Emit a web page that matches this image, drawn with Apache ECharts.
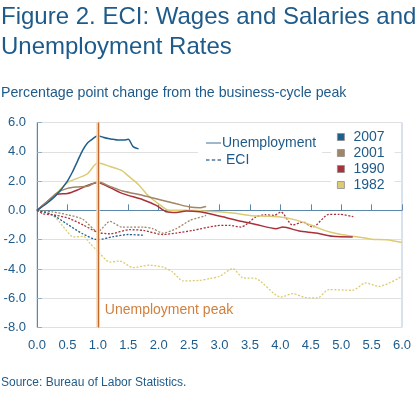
<!DOCTYPE html>
<html>
<head>
<meta charset="utf-8">
<script src="https://cdn.jsdelivr.net/npm/echarts@6/dist/echarts.min.js"></script>
<style>
html,body{margin:0;padding:0;background:#fff;}
#c{width:420px;height:395px;}
</style>
</head>
<body>
<div id="c"></div>
<script>
// Years after business-cycle peak (x) and percentage point change (y)
const years = ['2007', '2001', '1990', '1982'];
const colors = ['#1f5f8b', '#a08566', '#a8313a', '#dccb72'];

const unemp2007 = [[0,0],[0.17,0.5],[0.33,1.1],[0.5,2.0],[0.58,2.6],[0.67,3.4],[0.75,4.1],[0.83,4.6],[0.92,4.9],[1.0,5.1],[1.08,5.0],[1.17,4.9],[1.25,4.85],[1.33,4.8],[1.42,4.8],[1.5,4.85],[1.58,4.35],[1.67,4.2]];
const unemp2001 = [[0,0],[0.17,0.6],[0.33,1.2],[0.5,1.5],[0.67,1.6],[0.83,1.65],[1.0,1.95],[1.2,1.64],[1.41,1.32],[1.74,1.02],[2.02,0.73],[2.29,0.45],[2.51,0.23],[2.67,0.18],[2.78,0.27]];
const unemp1990 = [[0,0],[0.17,0.6],[0.33,1.1],[0.5,1.15],[0.67,1.4],[0.83,1.7],[1.0,1.9],[1.2,1.55],[1.41,1.14],[1.74,0.73],[1.96,0.34],[2.13,-0.1],[2.29,-0.15],[2.45,-0.05],[2.67,-0.1],[2.84,-0.23],[3.11,-0.5],[3.35,-0.75],[3.6,-0.96],[3.93,-1.25],[4.04,-1.14],[4.31,-1.41],[4.59,-1.55],[4.86,-1.77],[5.19,-1.82]];
const unemp1982 = [[0,0],[0.17,0.6],[0.33,1.2],[0.5,1.9],[0.67,2.2],[0.83,2.5],[1.0,3.25],[1.2,3.0],[1.39,2.73],[1.5,2.35],[1.67,1.75],[1.83,1.0],[2.0,0.45],[2.17,0.0],[2.5,0.0],[2.75,-0.05],[3.0,-0.1],[3.25,-0.2],[3.5,-0.35],[3.75,-0.4],[4.0,-0.45],[4.25,-0.65],[4.5,-1.0],[4.75,-1.4],[5.0,-1.65],[5.25,-1.8],[5.5,-1.97],[5.75,-2.0],[6.0,-2.2]];

const eci2007 = [[0,0],[0.25,-0.3],[0.5,-0.95],[0.75,-1.6],[1.0,-2.0],[1.25,-1.8],[1.5,-1.65],[1.75,-1.7]];
const eci2001 = [[0,0],[0.25,-0.1],[0.5,-0.3],[0.75,-0.6],[1.0,-1.45],[1.2,-0.75],[1.4,-1.15],[1.75,-1.15],[1.9,-1.25],[2.07,-1.55],[2.29,-1.25],[2.51,-0.7],[2.78,-0.35]];
const eci1990 = [[0,0],[0.1,-0.23],[0.32,-0.34],[0.54,-0.57],[0.76,-1.0],[1.0,-1.5],[1.2,-1.6],[1.52,-1.32],[1.75,-1.37],[2.07,-1.65],[2.29,-1.55],[2.56,-1.37],[2.95,-1.05],[3.16,-1.02],[3.35,-1.14],[3.6,-0.45],[3.75,-0.3],[3.9,-0.34],[4.01,-0.11],[4.2,-1.0],[4.37,-0.8],[4.53,-1.14],[4.8,-0.27],[4.97,-0.27],[5.2,-0.43]];
const eci1982 = [[0,0],[0.25,-0.3],[0.43,-1.1],[0.6,-1.82],[0.76,-1.77],[0.87,-2.25],[1.0,-2.8],[1.2,-3.53],[1.36,-3.46],[1.58,-3.91],[1.85,-3.75],[2.07,-3.87],[2.23,-4.21],[2.4,-4.82],[2.67,-4.78],[2.84,-4.66],[3.0,-4.5],[3.22,-3.98],[3.38,-4.6],[3.6,-4.66],[4.01,-5.92],[4.2,-5.69],[4.42,-5.96],[4.61,-5.98],[4.8,-5.41],[5.19,-5.46],[5.4,-4.96],[5.62,-5.19],[6.0,-4.5]];

const xTicks = { min: 0, max: 6, interval: 0.5 };
const yTicks = { min: -8, max: 6, interval: 2 };
const peakX = 1.0;
const peakLabel = 'Unemployment peak';

const unemp = [unemp2007, unemp2001, unemp1990, unemp1982];
const eci = [eci2007, eci2001, eci1990, eci1982];

const FONT = 'Liberation Sans, Arial, Helvetica, sans-serif';
const TXT = '#1e5b8a';

const series = [];
// dummy series for style legend
series.push({ name: 'Unemployment', type: 'line', data: [], color: '#7f9fb8', symbol: 'none' });
series.push({ name: 'ECI', type: 'line', data: [], color: '#4a7aa0', symbol: 'none', lineStyle: { type: 'dashed' } });
for (let i = years.length - 1; i >= 0; i--) {
  series.push({
    name: years[i], type: 'line', data: eci[i], color: colors[i],
    symbol: 'none', smooth: 0.25,
    lineStyle: { width: 1.3, type: [2, 1.6], color: colors[i] }
  });
}
for (let i = years.length - 1; i >= 0; i--) {
  series.push({
    name: years[i], type: 'line', data: unemp[i], color: colors[i],
    symbol: 'none', smooth: 0.25,
    lineStyle: { width: 1.5, color: colors[i] }
  });
}
// peak marker line
series[series.length - 1].markLine = {
  silent: true, symbol: 'none', animation: false,
  label: { show: false },
  data: [
    { xAxis: peakX, lineStyle: { color: '#f6d6b8', width: 3.5, type: 'solid' } },
    { xAxis: peakX, lineStyle: { color: '#c0692a', width: 1.2, type: 'solid' } }
  ]
};
series[series.length - 1].markPoint = {
  silent: true, symbol: 'circle', symbolSize: 0, animation: false,
  data: [{ coord: [peakX, -6.83] }],
  label: { show: true, position: 'right', distance: 7, formatter: peakLabel,
    color: '#d17f3c', fontSize: 14, fontFamily: FONT }
};

const chart = echarts.init(document.getElementById('c'), null, { renderer: 'canvas' });
chart.setOption({
  animation: false,
  backgroundColor: '#fff',
  title: [
    { text: 'Figure 2. ECI: Wages and Salaries and\nUnemployment Rates', left: 1, top: 2, padding: 0,
      textStyle: { fontSize: 24, lineHeight: 30, fontWeight: 'normal', color: TXT, fontFamily: FONT } },
    { text: 'Percentage point change from the business-cycle peak', left: 1, top: 86, padding: 0,
      textStyle: { fontSize: 14.2, fontWeight: 'normal', color: TXT, fontFamily: FONT } },
    { text: 'Source: Bureau of Labor Statistics.', left: 1, top: 377, padding: 0,
      textStyle: { fontSize: 12, fontWeight: 'normal', color: TXT, fontFamily: FONT } }
  ],
  legend: [
    { data: [
        { name: 'Unemployment', icon: 'path://M0,0h15v1.5h-15z', textStyle: { padding: [0, 0, 0, -4] } },
        { name: 'ECI', icon: 'path://M0,0h3v1.5h-3z M5,0h3v1.5h-3z M10,0h3v1.5h-3z' }
      ],
      orient: 'vertical', left: 198, top: 130, padding: [6, 6, 6, 8], itemGap: 3,
      itemWidth: 15, itemHeight: 14, backgroundColor: '#fff', selectedMode: false,
      textStyle: { fontSize: 14, color: TXT, fontFamily: FONT } },
    { data: years.map(y => ({ name: y, icon: 'rect' })),
      orient: 'vertical', left: 331, top: 127, padding: [3, 10, 3, 6], itemGap: 2,
      itemWidth: 7, itemHeight: 7, backgroundColor: '#fff', selectedMode: false,
      itemStyle: { borderColor: '#8c8c8c', borderWidth: 0.8 },
      textStyle: { fontSize: 14, color: TXT, fontFamily: FONT, padding: [0, 0, 0, 4] } }
  ],
  grid: { left: 37, right: 18, top: 122.5, bottom: 67.5, show: true, borderColor: '#b3c6d6', borderWidth: 1 },
  xAxis: {
    type: 'value', min: xTicks.min, max: xTicks.max, interval: xTicks.interval,
    axisLine: { show: true, lineStyle: { color: '#5b87ab', width: 1 } },
    axisTick: { show: true, inside: true, length: 6, lineStyle: { color: '#5b87ab' } },
    splitLine: { show: false },
    axisLabel: { color: TXT, fontSize: 13, fontFamily: FONT, margin: 11, formatter: v => v.toFixed(1) }
  },
  yAxis: {
    type: 'value', min: yTicks.min, max: yTicks.max, interval: yTicks.interval,
    axisLine: { show: true, lineStyle: { color: '#5b87ab', width: 1 } },
    axisTick: { show: true, inside: true, length: 5, lineStyle: { color: '#8fb0c9' } },
    splitLine: { show: true, lineStyle: { color: '#e0e0e0', width: 1 } },
    axisLabel: { color: TXT, fontSize: 13, fontFamily: FONT, margin: 11, formatter: v => v.toFixed(1) }
  },
  series: series
});
</script>
</body>
</html>
